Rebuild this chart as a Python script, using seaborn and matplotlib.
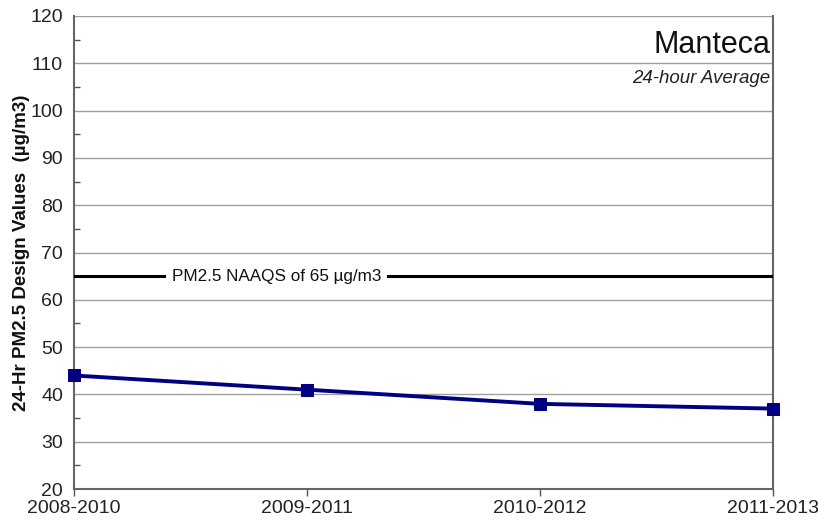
import matplotlib
matplotlib.use("Agg")
import matplotlib.pyplot as plt
from matplotlib.ticker import MultipleLocator
import seaborn as sns
import pandas as pd

periods = ["2008-2010", "2009-2011", "2010-2012", "2011-2013"]
design_values = [44, 41, 38, 37]
naaqs = 65
title = "Manteca"
subtitle = "24-hour Average"
naaqs_label = "PM2.5 NAAQS of 65 µg/m3"
ylabel = "24-Hr PM2.5 Design Values  (µg/m3)"

sns.set_theme(style="white")
plt.rcParams["font.family"] = ["Liberation Sans", "DejaVu Sans"]

df = pd.DataFrame({"period": periods, "value": design_values, "x": range(len(periods))})

fig = plt.figure(figsize=(8.18, 5.21), dpi=100)
ax = fig.add_axes([74 / 818, 32 / 521, (773 - 74) / 818, (489 - 16) / 521])

sns.lineplot(data=df, x="x", y="value", ax=ax, color="#000080", linewidth=2.8,
             marker="s", markersize=8, markeredgecolor="#000080", zorder=5, clip_on=False)

ax.axhline(naaqs, color="black", linewidth=2.2, zorder=3)
ax.text(0.87, naaqs, naaqs_label, ha="center", va="center", fontsize=12.3,
        color="#111111", bbox=dict(facecolor="white", edgecolor="none", pad=4), zorder=4)

ax.set_xlim(0, len(periods) - 1)
ax.set_ylim(20, 120)
ax.set_xticks(range(len(periods)))
ax.set_xticklabels(periods, fontsize=14, color="#222222")
ax.yaxis.set_major_locator(MultipleLocator(10))
ax.yaxis.set_minor_locator(MultipleLocator(5))
ax.tick_params(axis="y", which="major", direction="out", length=5, width=1, color="#555555",
               labelsize=14, labelcolor="#222222", pad=3)
ax.tick_params(axis="y", which="minor", direction="in", length=4, width=1, color="#555555", left=True)
ax.tick_params(axis="x", which="major", direction="out", length=5, width=1, color="#555555", pad=3, bottom=True)
ax.grid(axis="y", which="major", color="#a0a0a0", linewidth=1)
ax.set_axisbelow(True)
for side in ["left", "bottom", "right"]:
    ax.spines[side].set_color("#666666")
    ax.spines[side].set_linewidth(1.5)
ax.spines["top"].set_visible(False)

ax.set_xlabel("")
ax.set_ylabel(ylabel, fontsize=13.5, fontweight="bold", color="#111111")
ax.yaxis.set_label_coords(22 / 818, (521 - 253) / 521, transform=fig.transFigure)
ax.yaxis.label.set_verticalalignment("center")

ax.text(0.996, 0.97, title, transform=ax.transAxes, ha="right", va="top", fontsize=22, color="#111111")
ax.text(0.996, 0.885, subtitle, transform=ax.transAxes, ha="right", va="top", fontsize=13.5,
        style="italic", color="#222222")

fig.savefig("out.png", dpi=100)
